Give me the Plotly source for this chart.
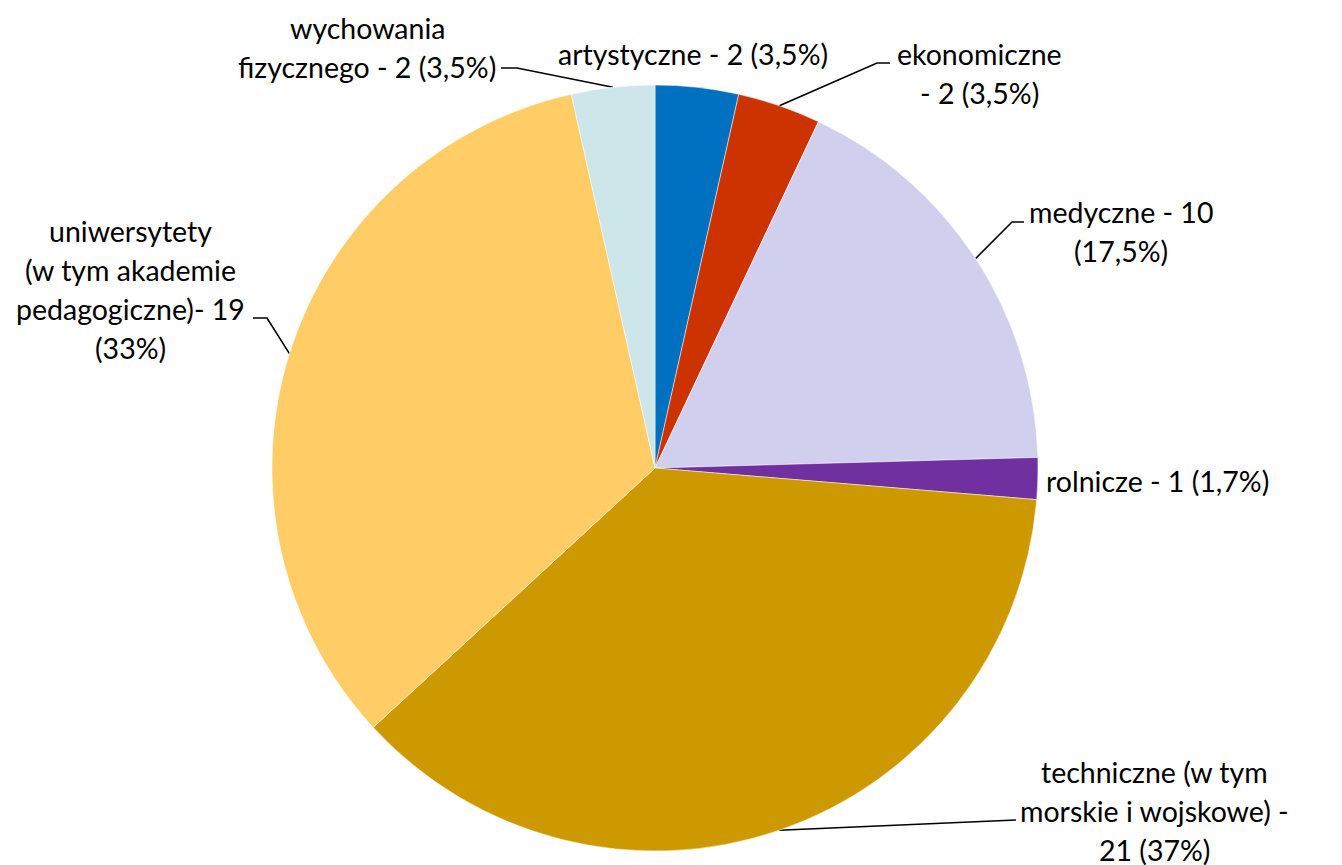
"""Pie chart: uczelnie wg typu."""
import math
import plotly.graph_objects as go

W, H = 1342, 865
PAD = 8  # page body margin; axis coords below are in page pixels

# data
categories = ['artystyczne', 'ekonomiczne', 'medyczne', 'rolnicze',
              'techniczne', 'uniwersytety', 'wychowania fizycznego']
values = [2, 2, 10, 1, 21, 19, 2]
label_lines = [
    ['artystyczne - 2 (3,5%)'],
    ['ekonomiczne', '- 2 (3,5%)'],
    ['medyczne - 10', '(17,5%)'],
    ['rolnicze - 1 (1,7%)'],
    ['techniczne (w tym', 'morskie i wojskowe) -', '21 (37%)'],
    ['uniwersytety', '(w tym akademie', 'pedagogiczne)- 19', '(33%)'],
    ['wychowania', 'fizycznego - 2 (3,5%)'],
]
colors = ['#0070C0', '#CC3300', '#D0D0EE', '#7030A0',
          '#CC9900', '#FFCC66', '#CDE6EA']

# layout (page pixels)
CX, CY, R = 655, 468, 383
FONT = dict(family='Lato, Calibri, sans-serif', size=28.5, color='#000000')
LINE_H = 39
# first-line centre of each label
label_pos = [(693, 54), (979, 54), (1121, 212), (1157, 481),
             (1154, 772), (130, 231), (367, 28)]
# label-side points of the leader line (None = no leader)
leader_start = [None, [(890, 63), (877, 63)], [(1024, 222), (1012, 222)], None,
                [(1016, 820)], [(253, 318), (267, 318)], [(501, 68), (517, 68)]]

fig = go.Figure()
fig.add_trace(go.Pie(
    labels=categories, values=values,
    sort=False, direction='clockwise', rotation=0,
    marker=dict(colors=colors, line=dict(color='white', width=0.5)),
    textinfo='none', hoverinfo='label+value+percent',
    domain=dict(x=[(CX - PAD - R) / W, (CX - PAD + R) / W],
                y=[(H - (CY - PAD) - R) / H, (H - (CY - PAD) + R) / H]),
    showlegend=False,
))

# leader lines end at the slice midpoints on the rim
total = sum(values)
cum = 0
for i, v in enumerate(values):
    mid = (cum + v / 2) / total * 2 * math.pi
    cum += v
    if leader_start[i] is None:
        continue
    px_, py_ = CX + R * math.sin(mid), CY - R * math.cos(mid)
    xs = [p[0] for p in leader_start[i]] + [px_]
    ys = [p[1] for p in leader_start[i]] + [py_]
    fig.add_trace(go.Scatter(x=xs, y=ys, mode='lines', line=dict(color='black', width=1.6),
                             hoverinfo='skip', showlegend=False))

for lines, (lx, ly) in zip(label_lines, label_pos):
    for j, t in enumerate(lines):
        fig.add_annotation(x=lx, y=ly + j * LINE_H, text=t, showarrow=False,
                           xanchor='center', yanchor='middle', font=FONT)

fig.update_layout(
    width=W, height=H,
    margin=dict(l=0, r=0, t=0, b=0),
    paper_bgcolor='white', plot_bgcolor='rgba(0,0,0,0)',
    xaxis=dict(range=[PAD, W + PAD], visible=False, fixedrange=True),
    yaxis=dict(range=[H + PAD, PAD], visible=False, fixedrange=True),
)
fig.write_html("out.html")
